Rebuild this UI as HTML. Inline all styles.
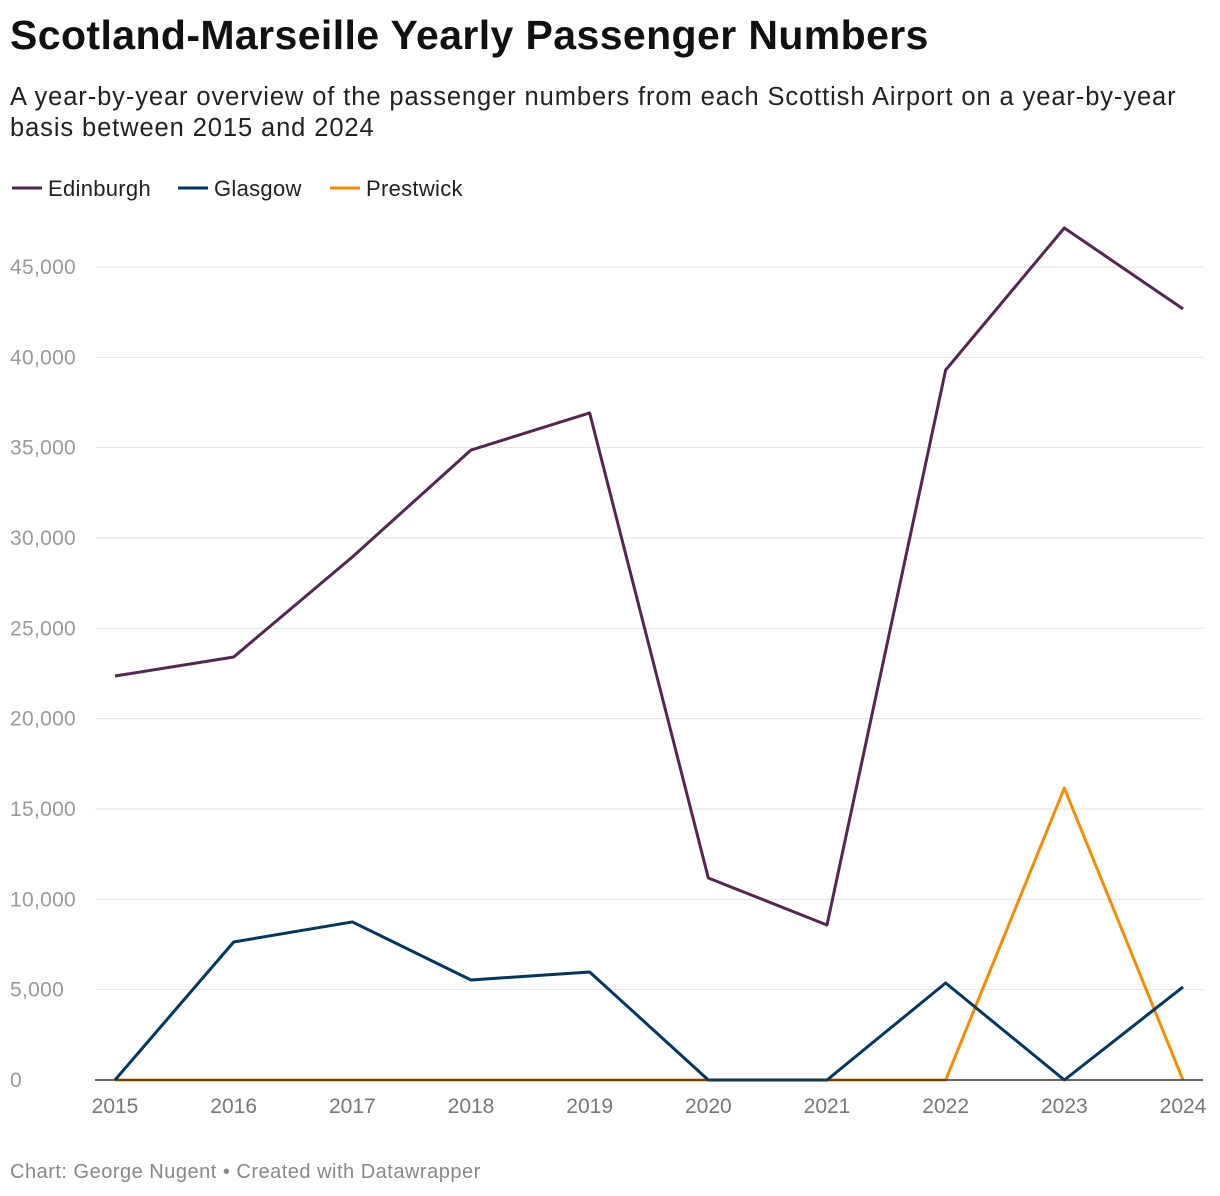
<!DOCTYPE html>
<html><head><meta charset="utf-8"><style>
body{margin:0;background:#fff;font-family:"Liberation Sans",sans-serif;}
#wrap{position:relative;width:1220px;height:1196px;overflow:hidden}
h1{position:absolute;left:10px;top:12px;margin:0;font-size:41px;font-weight:bold;color:#111;letter-spacing:0.4px}
.sub{position:absolute;left:10px;top:82px;width:1200px;font-size:25.5px;line-height:31px;color:#222;letter-spacing:0.9px}
.foot{position:absolute;left:10px;top:1161px;font-size:20px;color:#888;letter-spacing:0.5px}
</style></head><body>
<div id="wrap">
<h1>Scotland-Marseille Yearly Passenger Numbers</h1>
<div class="sub">A year-by-year overview of the passenger numbers from each Scottish Airport on a year-by-year basis between 2015 and 2024</div>
<svg id="chart" width="1220" height="1196" style="position:absolute;left:0;top:0"></svg>
<div class="foot">Chart: George Nugent • Created with Datawrapper</div>
</div>
<script>
const years=[2015,2016,2017,2018,2019,2020,2021,2022,2023,2024];
const edinburgh=[22360,23415,28950,34870,36920,11180,8580,39300,47160,42680];
const glasgow=[0,7640,8750,5535,5980,0,0,5370,0,5150];
const prestwick=[0,0,0,0,0,0,0,0,16160,0];
const yTicks=[0,5000,10000,15000,20000,25000,30000,35000,40000,45000];
const seriesNames=["Edinburgh","Glasgow","Prestwick"];
const colors=["#51294d","#00365f","#f28e00"];
const NS="http://www.w3.org/2000/svg";
const svg=document.getElementById('chart');
const x=v=>115+(v-2015)*(1183-115)/9;
const y=v=>1080-v*(1080-267)/45000;
function mk(t,a){const e=document.createElementNS(NS,t);for(const k in a)e.setAttribute(k,a[k]);svg.appendChild(e);return e;}
yTicks.forEach(t=>{
 if(t>0){const l=mk('line',{x1:95,x2:1203,y1:y(t),y2:y(t),stroke:'#e2e2e2','stroke-width':1});
 
 }
 const tx=mk('text',{x:10,y:y(t)+7,'font-size':21,fill:'#9a9a9a','font-family':'Liberation Sans, sans-serif','letter-spacing':'0.3'});
 tx.textContent=t.toLocaleString('en-US');
 
 
});
years.forEach(yr=>{
 const tx=mk('text',{x:x(yr),y:1113,'font-size':21,fill:'#777','text-anchor':'middle','font-family':'Liberation Sans, sans-serif'});
 tx.textContent=yr;
 
 
});
[prestwick,glasgow,edinburgh].forEach((s,i)=>{
 const ci=2-i;
 const p=mk('polyline',{points:s.map((v,j)=>x(years[j])+','+y(v)).join(' '),fill:'none',stroke:colors[ci],'stroke-width':3,'stroke-linejoin':'round'});
 
 
});
const ax=mk('line',{x1:95,x2:1203,y1:1080,y2:1080,stroke:'#333','stroke-width':1.5});


let lx=12;
seriesNames.forEach((n,i)=>{
 const l=mk('line',{x1:lx,x2:lx+30,y1:188,y2:188,stroke:colors[i],'stroke-width':3});
 
 
 const t=mk('text',{x:lx+36,y:196,'font-size':22,fill:'#222','font-family':'Liberation Sans, sans-serif','letter-spacing':'0.3'});
 t.textContent=n;
 
 
 lx+=[166,152,150][i];
});
</script>
</body></html>
